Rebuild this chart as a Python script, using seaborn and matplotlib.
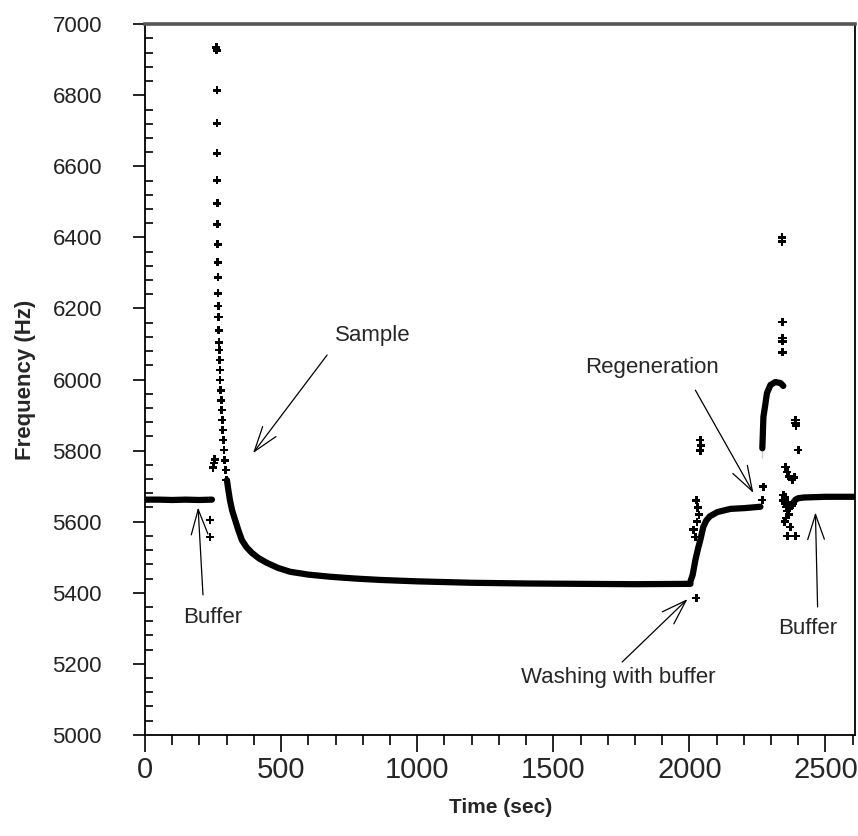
import matplotlib
matplotlib.use("Agg")
import matplotlib.pyplot as plt
from matplotlib import font_manager
from matplotlib.ticker import MultipleLocator
import pandas as pd
import seaborn as sns

# continuous parts of the trace (dense points, drawn as a thick line)
buffer_x = [0, 50, 100, 150, 200, 246]
buffer_y = [5662, 5662, 5661, 5662, 5661, 5662]

decay_x = [301, 306, 312, 320, 331, 343, 356, 373, 393, 418, 448, 488, 533,
           600, 680, 770, 864, 1000, 1200, 1400, 1600, 1800, 2004]
decay_y = [5717, 5690, 5661, 5632, 5605, 5576, 5548, 5528, 5512, 5497, 5484,
           5470, 5459, 5451, 5445, 5440, 5436, 5432, 5428, 5426, 5425, 5424, 5425]

wash_x = [2004, 2012, 2022, 2032, 2040, 2051, 2062, 2075, 2103, 2151, 2200, 2261]
wash_y = [5432, 5450, 5492, 5525, 5548, 5585, 5603, 5615, 5627, 5636, 5638, 5642]

regen_x = [2268, 2268, 2268, 2272, 2279, 2285, 2298, 2316, 2335, 2345]
regen_y = [5780, 5802, 5838, 5895, 5930, 5962, 5985, 5993, 5990, 5982]

final_x = [2380, 2390, 2400, 2420, 2460, 2500, 2560, 2610]
final_y = [5652, 5662, 5666, 5668, 5669, 5670, 5670, 5670]

# single scattered points
pts_x = [239, 239, 250, 253, 256,
         262, 263, 264, 264, 265, 265, 266, 266, 267, 267, 268, 268, 269, 270,
         271, 272, 273, 274, 275, 276, 278, 280, 282, 284, 286, 288, 290, 293,
         296, 299,
         2040, 2042, 2040, 2025, 2030, 2035, 2028, 2022, 2015, 2025,
         2272, 2268,
         2340, 2340, 2342, 2342, 2342, 2342,
         2353, 2360, 2365, 2378, 2385, 2390, 2390, 2392, 2400,
         2345, 2350, 2355, 2360, 2365, 2370, 2380, 2371, 2360, 2390, 2350, 2355,
         2345, 2352, 2362, 2375]
pts_y = [5605, 5557, 5752, 5765, 5775,
         6935, 6927, 6814, 6721, 6637, 6561, 6496, 6437, 6381, 6330, 6288, 6243,
         6207, 6176, 6139, 6105, 6083, 6055, 6027, 5999, 5970, 5942, 5914, 5886,
         5858, 5830, 5802, 5773, 5745, 5717,
         5830, 5815, 5800, 5660, 5640, 5620, 5600, 5557, 5577, 5385,
         5698, 5661,
         6400, 6388, 6162, 6117, 6108, 6077,
         5754, 5740, 5728, 5717, 5725, 5878, 5886, 5870, 5802,
         5675, 5652, 5641, 5630, 5620, 5640, 5650, 5585, 5560, 5560, 5600, 5610,
         5660, 5668, 5655, 5645]

segments = [(buffer_x, buffer_y), (decay_x, decay_y), (wash_x, wash_y),
             (regen_x, regen_y), (final_x, final_y)]

sns.set_style("ticks")
plt.rcParams["font.family"] = ["Liberation Sans", "DejaVu Sans"]

names = {f.name for f in font_manager.fontManager.ttflist}
narrow = "Liberation Sans Narrow" in names
tick_family = ["Liberation Sans Narrow"] if narrow else ["Liberation Sans"]
tick_size = 24 if narrow else 21

fig = plt.figure(figsize=(8.58, 8.36), dpi=100)
ax = fig.add_axes([0.169, 0.121, 0.828, 0.850])

for sx, sy in segments:
    seg = pd.DataFrame({"t": sx, "f": sy})
    sns.lineplot(data=seg, x="t", y="f", sort=False, color="black",
                 linewidth=4.5, ax=ax)

pts = pd.DataFrame({"t": pts_x, "f": pts_y})
sns.scatterplot(data=pts, x="t", y="f", marker="P", s=34, color="black",
                edgecolor="none", ax=ax)

ax.set_xlim(0, 2610)
ax.set_ylim(5000, 7000)
ax.xaxis.set_major_locator(MultipleLocator(500))
ax.xaxis.set_minor_locator(MultipleLocator(100))
ax.yaxis.set_major_locator(MultipleLocator(200))
ax.yaxis.set_minor_locator(MultipleLocator(40))

ax.tick_params(axis="x", which="major", direction="out", length=12, width=1.2,
               color="black", pad=3)
ax.tick_params(axis="x", which="minor", direction="out", length=7, width=1.2,
               color="black")
ax.tick_params(axis="y", which="major", direction="out", length=9, width=1.2,
               color="black", labelsize=16, pad=22)
ax.tick_params(axis="y", which="minor", direction="in", length=6, width=1.2,
               color="black")
for lab in ax.get_xticklabels():
    lab.set_family(tick_family)
    lab.set_fontsize(tick_size)
for lab in ax.get_yticklabels():
    lab.set_color("#222222")

for side in ["left", "bottom", "right"]:
    ax.spines[side].set_color("black")
    ax.spines[side].set_linewidth(1.3)
ax.spines["top"].set_color("#555555")
ax.spines["top"].set_linewidth(2.6)

ax.set_xlabel("Time (sec)", fontsize=15, fontweight="bold",
              family=tick_family, labelpad=10)
ax.set_ylabel("Frequency (Hz)", fontsize=16, fontweight="bold",
              family=tick_family, labelpad=12)

arrow = dict(arrowstyle="->, head_length=0.9, head_width=0.3", color="black",
             lw=0.9, shrinkA=0, shrinkB=0, mutation_scale=20)
note_size = 16
ax.text(835, 6125, "Sample", fontsize=note_size, ha="center", va="center")
ax.annotate("", xy=(397, 5793), xytext=(669, 6069), arrowprops=arrow)
ax.annotate("", xy=(195, 5640), xytext=(213, 5394), arrowprops=arrow)
ax.text(250, 5329, "Buffer", fontsize=note_size, ha="center", va="center")
ax.annotate("", xy=(2235, 5681), xytext=(2022, 5970), arrowprops=arrow)
ax.text(1864, 6035, "Regeneration", fontsize=note_size, ha="center",
        va="center")
ax.annotate("", xy=(1993, 5382), xytext=(1753, 5205), arrowprops=arrow)
ax.text(1740, 5160, "Washing with buffer", fontsize=note_size, ha="center",
        va="center")
ax.annotate("", xy=(2463, 5626), xytext=(2471, 5360), arrowprops=arrow)
ax.text(2434, 5298, "Buffer", fontsize=note_size, ha="center", va="center")

fig.savefig("out.png", dpi=100)
